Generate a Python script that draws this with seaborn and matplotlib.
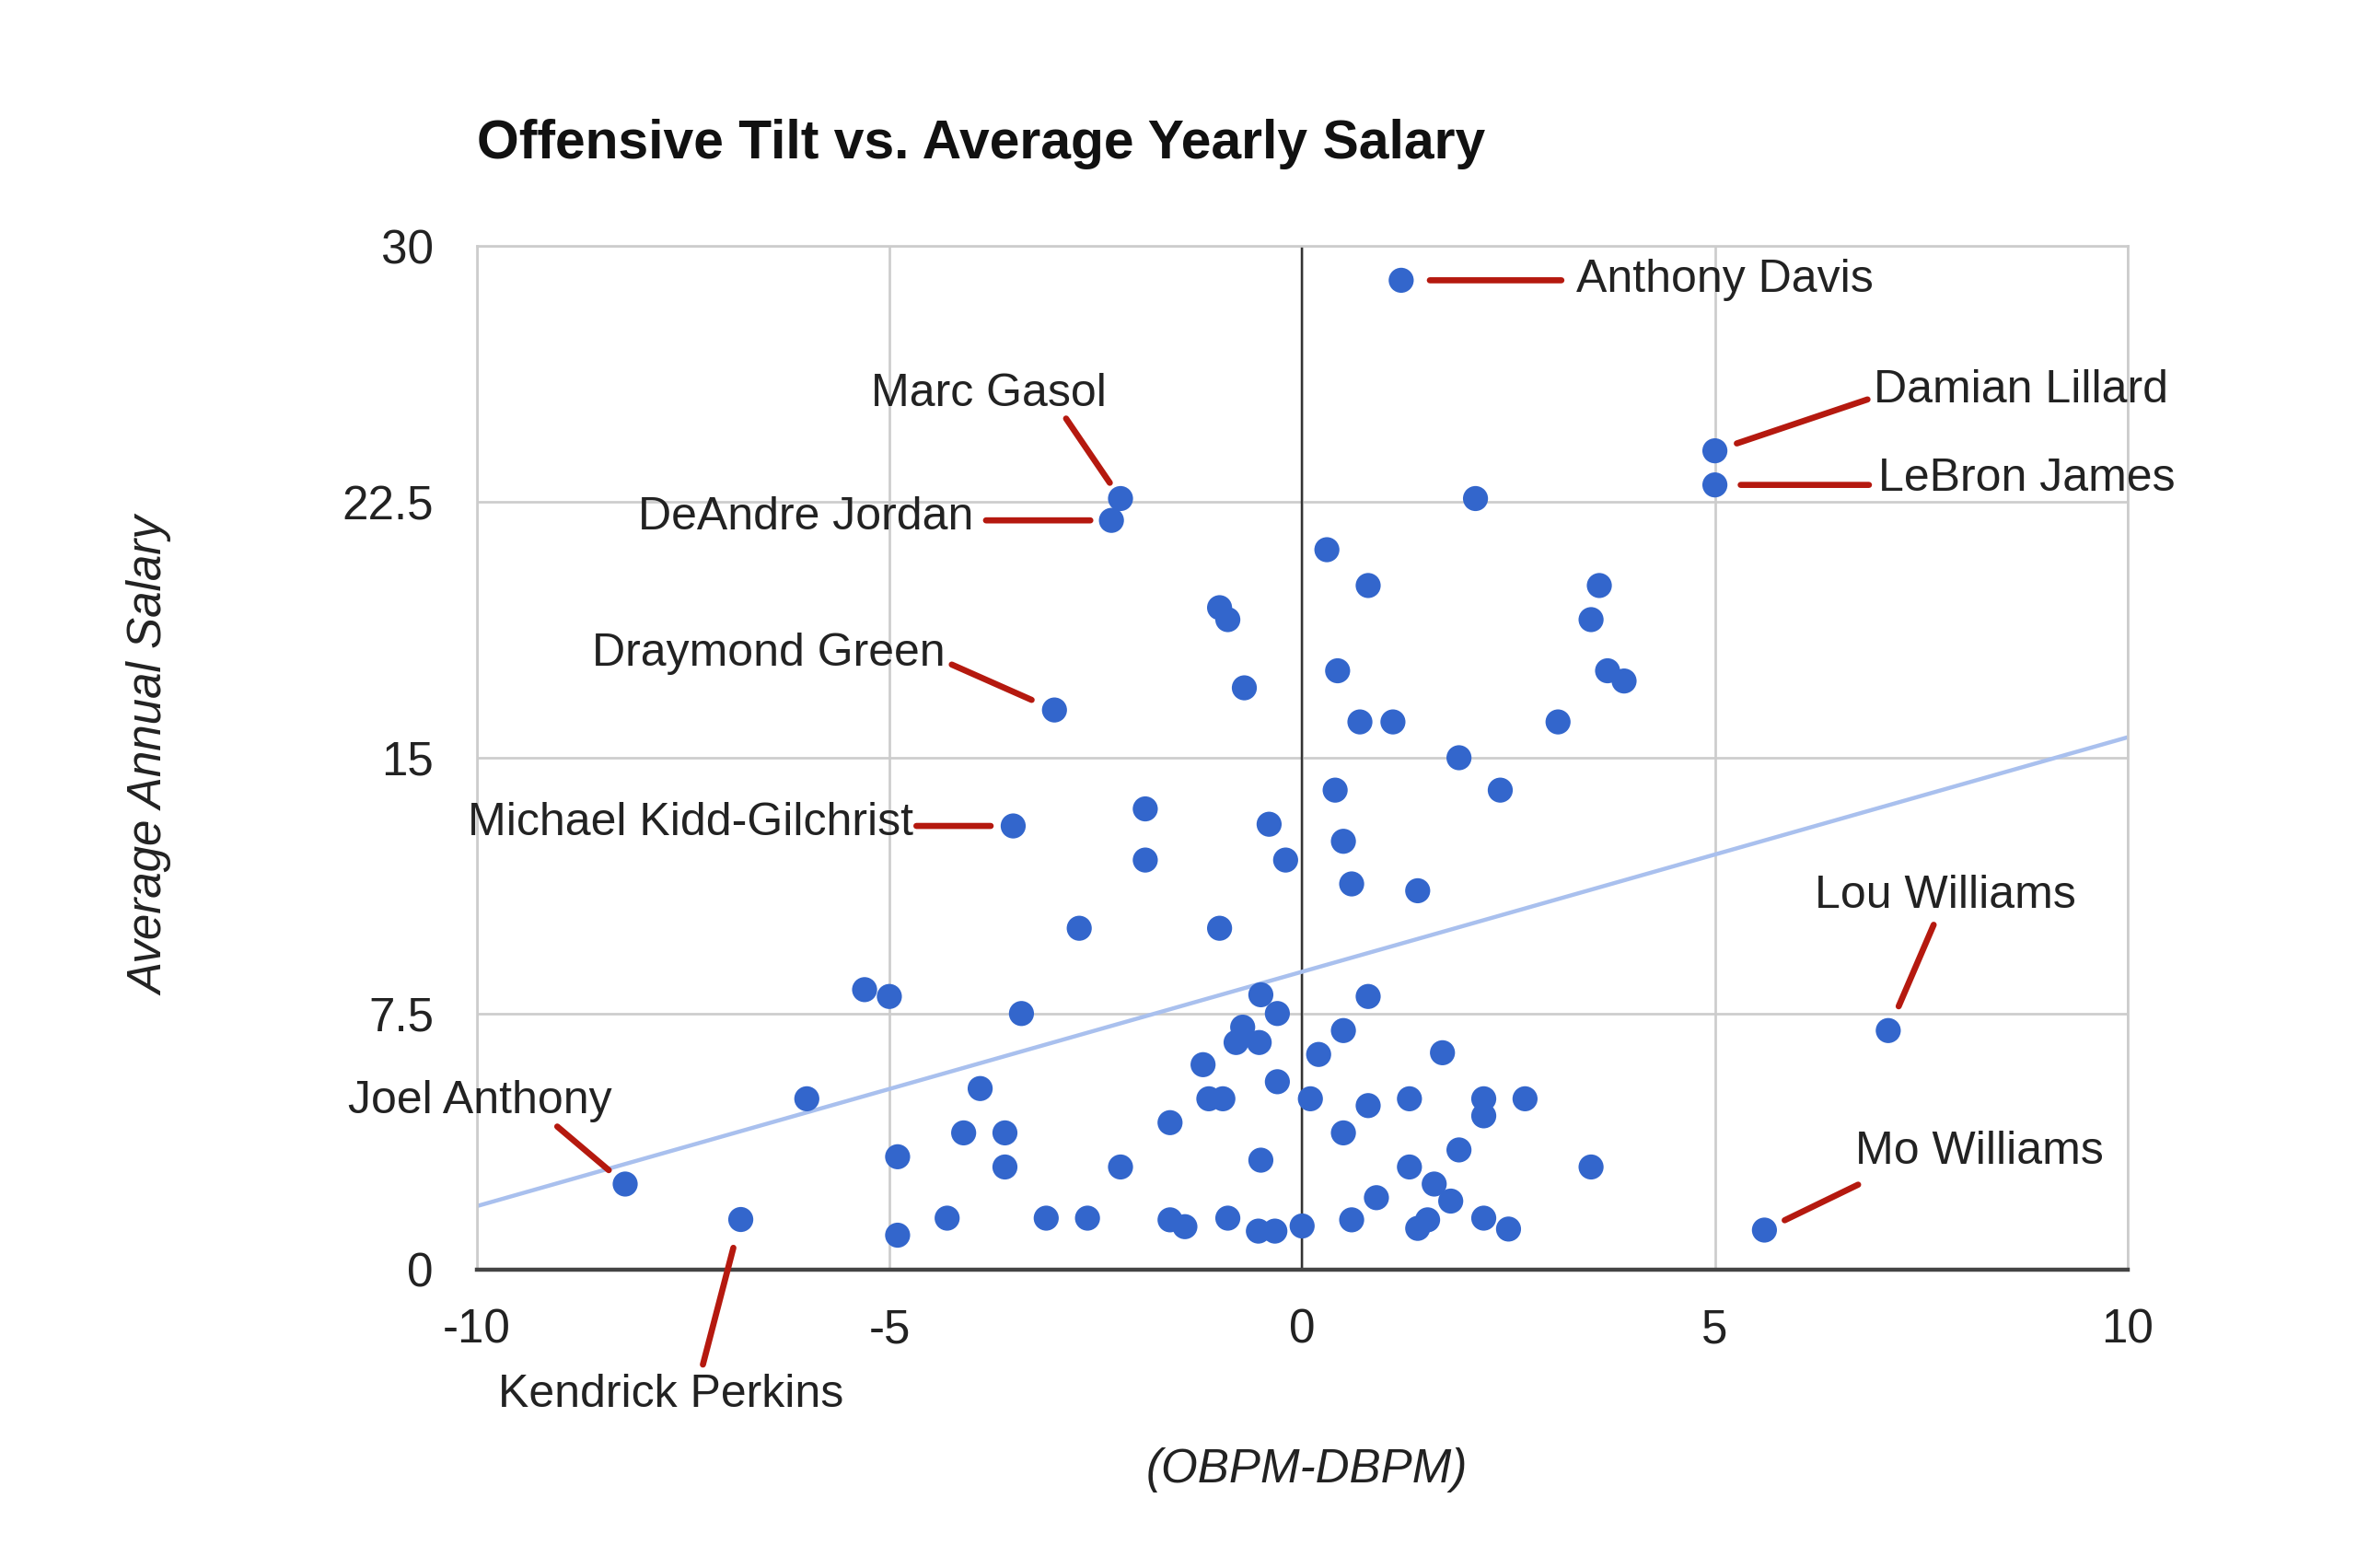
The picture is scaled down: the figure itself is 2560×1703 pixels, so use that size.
import pandas as pd
import seaborn as sns
import matplotlib.pyplot as plt

# --- dados ---
tilt = [2.1, 0.3, 0.8, 3.6, -1.0, -0.9, 3.5, 0.43, 3.7, 3.9, -0.7, 0.7, 1.1, 3.1,
        1.9, 0.4, 2.4, -1.9, -0.4, 0.5, -1.9, -0.2, 0.6, 1.4, -2.7, -1.0, -5.3,
        -5.0, -0.5, 0.8, -3.4, -0.3, -0.72, 0.5, -0.8, -0.52, 0.2, 1.7, -1.2,
        -3.9, -0.3, -6.0, -1.13, -0.96, 0.1, 1.3, 2.2, 2.7, 0.8, 2.2, -1.6, -4.1,
        -3.6, 0.5, 1.9, -4.9, -0.5, -3.6, -2.2, 1.3, 3.5, 1.6, 0.9, 1.8, -4.3,
        -3.1, -2.6, -1.6, -1.42, -0.9, 0.6, 1.52, 1.4, 2.2, 2.5, -0.53, -0.33,
        0.0, -4.9]
salary = [22.6, 21.1, 20.05, 20.05, 19.4, 19.05, 19.05, 17.55, 17.55, 17.25,
          17.05, 16.05, 16.05, 16.05, 15.0, 14.05, 14.05, 13.5, 13.05, 12.55,
          12.0, 12.0, 11.3, 11.1, 10.0, 10.0, 8.2, 8.0, 8.05, 8.0, 7.5, 7.5, 7.1,
          7.0, 6.65, 6.65, 6.3, 6.35, 6.0, 5.3, 5.5, 5.0, 5.0, 5.0, 5.0, 5.0, 5.0,
          5.0, 4.8, 4.5, 4.3, 4.0, 4.0, 4.0, 3.5, 3.3, 3.2, 3.0, 3.0, 3.0, 3.0,
          2.5, 2.1, 2.0, 1.5, 1.5, 1.5, 1.45, 1.25, 1.5, 1.45, 1.45, 1.2, 1.5,
          1.18, 1.12, 1.12, 1.27, 1.0]

players = ["Anthony Davis", "Marc Gasol", "DeAndre Jordan", "Draymond Green",
           "Michael Kidd-Gilchrist", "Damian Lillard", "LeBron James",
           "Lou Williams", "Mo Williams", "Joel Anthony", "Kendrick Perkins"]
players_tilt = [1.2, -2.2, -2.31, -3.0, -3.5, 5.0, 5.0, 7.1, 5.6, -8.2, -6.8]
players_salary = [29.0, 22.6, 21.96, 16.4, 13.0, 24.0, 23.0, 7.0, 1.15, 2.5, 1.46]

# linha de tendencia (extremos)
trend_x = [-10, 10]
trend_y = [1.85, 15.6]

df = pd.DataFrame({"tilt": tilt + players_tilt, "salary": salary + players_salary})

# posicao dos rotulos (pontos de deslocamento): texto, inicio da linha, folga, alinhamento
label_layout = {
    "Anthony Davis": ((85.7, 0), (78.3, 0), 14, "left"),
    "Marc Gasol": ((-64.2, 51.0), (-26.6, 39.1), 9.3, "center"),
    "DeAndre Jordan": ((-67.2, 1.5), (-61.3, 0), 10.3, "right"),
    "Draymond Green": ((-53.2, 27.3), (-50.2, 22.2), 12.2, "right"),
    "Michael Kidd-Gilchrist": ((-48.7, 1.5), (-47.3, 0), 11, "right"),
    "Damian Lillard": ((77.5, 29.5), (74.6, 25.1), 11.3, "left"),
    "LeBron James": ((79.8, 3), (75.3, 0), 12.6, "left"),
    "Lou Williams": ((28.1, 65.7), (22.2, 51.7), 12.9, "center"),
    "Mo Williams": ((44.3, 38.4), (45.8, 22.2), 11, "left"),
    "Joel Anthony": ((-70.9, 40.6), (-33.2, 28.1), 10.5, "center"),
    "Kendrick Perkins": ((-34, -85.7), (-18.5, -70.9), 14.3, "center"),
}

sns.set_style("white")
plt.rcParams["font.family"] = ["Liberation Sans", "DejaVu Sans"]

texto = "#222222"
cinza = "#cccccc"

fig = plt.figure(figsize=(16, 10.64375), dpi=160)
ax = fig.add_axes([0.2022, 0.1905, 0.7005, 0.6525])

ax.plot(trend_x, trend_y, color="#a9c0ee", lw=2, zorder=2)
sns.scatterplot(data=df, x="tilt", y="salary", color="#3366cc", s=150,
                edgecolor="none", ax=ax, zorder=3)

ax.set_xlim(-10, 10)
ax.set_ylim(0, 30)
ax.set_xticks([-10, -5, 0, 5, 10])
ax.set_xticklabels(["-10", "-5", "0", "5", "10"])
ax.set_yticks([0, 7.5, 15, 22.5, 30])
ax.set_yticklabels(["0", "7.5", "15", "22.5", "30"])
ax.tick_params(axis="both", length=0, labelsize=23, labelcolor=texto)
ax.tick_params(axis="y", pad=21)
ax.tick_params(axis="x", pad=19)
ax.grid(True, color=cinza, lw=1.2, zorder=0)
ax.axvline(0, color="#333333", lw=1.1, zorder=1)
for lado in ["left", "top", "right"]:
    ax.spines[lado].set_color(cinza)
    ax.spines[lado].set_linewidth(1.2)
ax.spines["bottom"].set_color("#444444")
ax.spines["bottom"].set_linewidth(2)
ax.set_xlabel("")
ax.set_ylabel("")

vermelho = "#b5190f"
for nome, px, py in zip(players, players_tilt, players_salary):
    (tx, ty), (lx, ly), folga, ha = label_layout[nome]
    ax.annotate(nome, xy=(px, py), xytext=(tx, ty), textcoords="offset points",
                ha=ha, va="center", fontsize=22.5, color=texto,
                annotation_clip=False)
    ax.annotate("", xy=(px, py), xytext=(lx, ly), textcoords="offset points",
                arrowprops=dict(arrowstyle="-", color=vermelho, lw=3,
                                shrinkA=0, shrinkB=folga),
                annotation_clip=False)

fig.text(0.2022, 0.908, "Offensive Tilt vs. Average Yearly Salary",
         fontsize=26.5, fontweight="bold", color="#111111", ha="left", va="center")
fig.text(0.064, 0.518, "Average Annual Salary", fontsize=23, style="italic",
         color=texto, rotation=90, ha="center", va="center")
fig.text(0.5545, 0.0626, "(OBPM-DBPM)", fontsize=23, style="italic",
         color=texto, ha="center", va="center")

plt.savefig("out.png", dpi=160)
